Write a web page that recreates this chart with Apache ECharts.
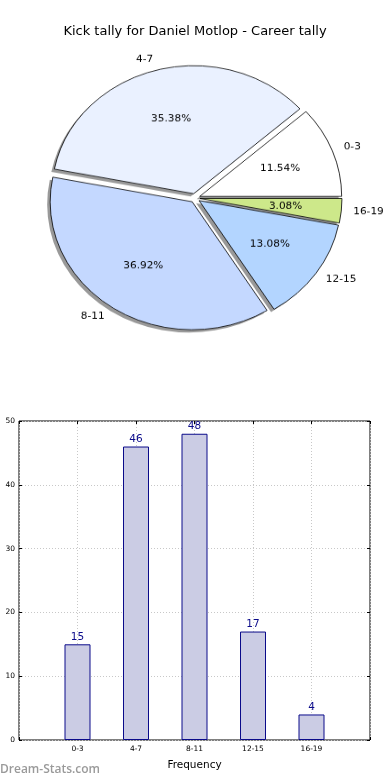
<!DOCTYPE html>
<html><head><meta charset="utf-8">
<script src="https://cdn.jsdelivr.net/npm/echarts@6/dist/echarts.min.js"></script>
<style>
html,body{margin:0;padding:0;background:#fff}
#wrap{position:relative;width:390px;height:780px}
#c{position:absolute;left:0;top:0;width:390px;height:780px}
#p{position:absolute;left:0;top:0;width:390px;height:400px;transform:scaleY(0.9014);transform-origin:0 198px}
</style>
</head><body><div id="wrap"><div id="c"></div><div id="p"></div></div>
<script>
const categories = ['0-3', '4-7', '8-11', '12-15', '16-19'];
const counts = [15, 46, 48, 17, 4];
const sliceColors = ['#ffffff', '#eaf1ff', '#c4d8ff', '#b3d5ff', '#cde88a'];
const yTicks = [0, 10, 20, 30, 40, 50];
const titleText = 'Kick tally for Daniel Motlop - Career tally';

const total = counts.reduce((a, b) => a + b, 0);
const FONT = 'DejaVu Sans';
const center = [195, 198];
const R = 142;

const pieBase = {
  type: 'pie', center: center, startAngle: 0, clockwise: false,
  selectedMode: 'multiple', selectedOffset: 5, animation: false,
  silent: true, avoidLabelOverlap: false, minShowLabelAngle: 0
};

const tick = { show: true, inside: true, length: 3, lineStyle: { color: '#000' } };

const option = {
  animation: false,
  title: {
    text: titleText, left: 'center', top: 20,
    textStyle: { fontFamily: FONT, fontSize: 13, fontWeight: 'normal', color: '#000' }
  },
  graphic: [{
    type: 'text', left: 0, top: 764,
    style: { text: 'Dream-Stats.com', fontFamily: 'Open Sans', fontSize: 12, fontWeight: 600, fill: '#9a9a9a' }
  }],
  grid: { left: 19, right: 20, top: 421, bottom: 40, show: true, borderColor: '#000', borderWidth: 1, backgroundColor: 'transparent' },
  xAxis: [{
    type: 'value', min: -1, max: 5, interval: 1,
    name: 'Frequency', nameLocation: 'middle', nameGap: 20,
    nameTextStyle: { fontFamily: FONT, fontSize: 10.5, color: '#000' },
    axisLine: { show: false, onZero: false },
    axisTick: tick,
    axisLabel: {
      fontFamily: FONT, fontSize: 7.5, color: '#000', margin: 5,
      formatter: v => (v >= 0 && v < categories.length) ? categories[v] : ''
    },
    splitLine: { show: true, lineStyle: { color: '#c8c8c8', type: [1, 2], width: 1 } }
  }, {
    type: 'value', min: -1, max: 5, interval: 1, position: 'top',
    axisLine: { show: false, onZero: false }, axisLabel: { show: false }, splitLine: { show: false },
    axisTick: tick
  }],
  yAxis: [{
    type: 'value', min: 0, max: 50, interval: 10,
    axisLine: { show: false, onZero: false },
    axisTick: tick,
    axisLabel: { fontFamily: FONT, fontSize: 7.5, color: '#000', margin: 4,
      formatter: v => yTicks.includes(v) ? String(v) : '' },
    splitLine: { show: true, lineStyle: { color: '#c8c8c8', type: [1, 2], width: 1 } }
  }, {
    type: 'value', min: 0, max: 50, interval: 10, position: 'right',
    axisLine: { show: false, onZero: false }, axisLabel: { show: false }, splitLine: { show: false },
    axisTick: tick
  }],
  series: [{
    type: 'bar', barWidth: 26,
    data: counts.map((v, i) => [i, v]),
    itemStyle: { color: '#cbcce4', borderColor: '#0a0a8a', borderWidth: 1 },
    label: { show: true, position: 'top', distance: 2, fontFamily: FONT, fontSize: 10.5, color: '#0a0a8a' },
    z: 1
  }]
};

const pieOption = {
  animation: false,
  series: [
    Object.assign({}, pieBase, {
      center: [center[0] - 3, center[1] + 3],
      radius: [0, R],
      data: categories.map((c, i) => ({ name: c, value: counts[i], selected: true })),
      label: { show: false }, labelLine: { show: false },
      itemStyle: { color: 'rgba(0,0,0,0.4)', borderWidth: 0 },
      z: 1
    }),
    Object.assign({}, pieBase, {
      radius: [0, R],
      data: categories.map((c, i) => ({ name: c, value: counts[i], selected: true, itemStyle: { color: sliceColors[i] } })),
      label: { show: true, position: 'outside', alignTo: 'none', distanceToLabelLine: 0,
        fontFamily: FONT, fontSize: 10.5, color: '#000', formatter: p => p.name },
      labelLine: { show: false, length: 12, length2: 0 },
      itemStyle: { borderColor: '#000', borderWidth: 0.8 },
      z: 2
    }),
    Object.assign({}, pieBase, {
      radius: [81, 85],
      data: categories.map((c, i) => ({ name: c, value: counts[i], selected: true })),
      itemStyle: { color: 'rgba(0,0,0,0)', borderWidth: 0 },
      label: { show: true, position: 'inside', fontFamily: FONT, fontSize: 10.5, color: '#000',
        formatter: p => (p.value / total * 100).toFixed(2) + '%' },
      labelLine: { show: false },
      z: 3
    })
  ]
};

echarts.init(document.getElementById('c'), null, { renderer: 'canvas' }).setOption(option);
echarts.init(document.getElementById('p'), null, { renderer: 'canvas' }).setOption(pieOption);
</script>
</body></html>
